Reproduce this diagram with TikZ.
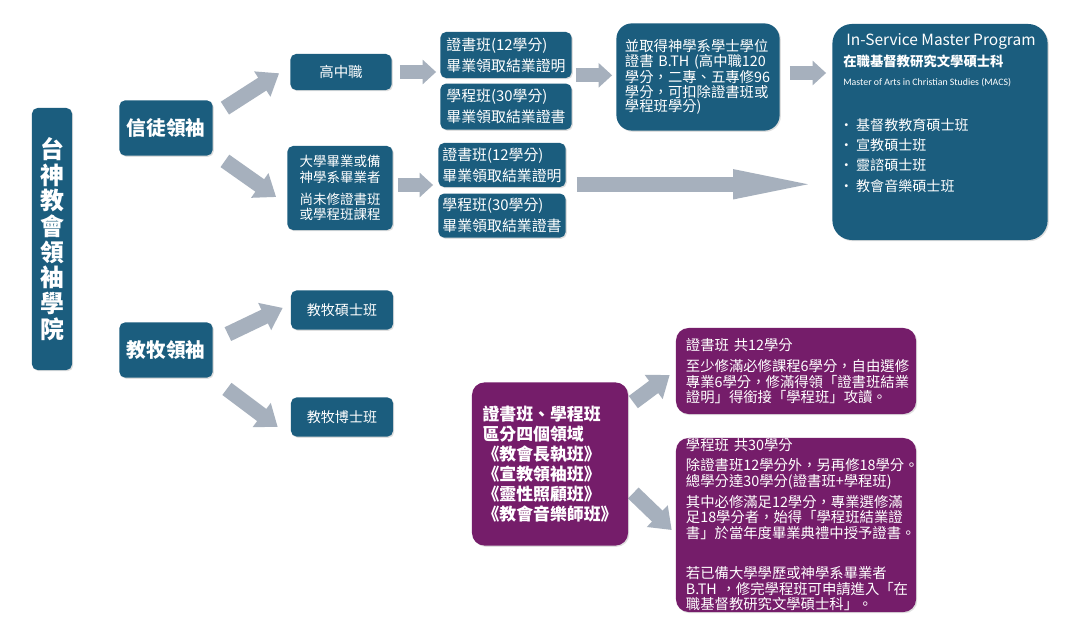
\documentclass[tikz,border=0pt]{standalone}
\usepackage{fontspec}
\setmainfont{Noto Sans CJK TC}
\newfontfamily\latinfont{Carlito}
\usepackage{tikz}
\usetikzlibrary{positioning,arrows.meta,calc,backgrounds,shadows}

\definecolor{leadblue}{RGB}{27,93,126}
\definecolor{leadpurple}{RGB}{117,29,106}
\definecolor{arrowgray}{RGB}{166,176,189}
\newcommand{\setfs}[2]{\fontsize{#1}{#2}\selectfont}

\begin{document}
\begin{tikzpicture}[
    x=0.025cm, y=-0.025cm,
    bbox/.style={fill=leadblue, text=white, rounded corners=4pt,
                 inner sep=0pt, align=left,
                 drop shadow={opacity=0.25, shadow xshift=0.03cm, shadow yshift=-0.03cm}},
    pbox/.style={bbox, fill=leadpurple, rounded corners=9pt},
    itext/.style={text=white, inner sep=0pt, anchor=west},
    garr/.style={draw=arrowgray, line width=0.35cm, -{Triangle[length=0.34cm,width=0.6cm]}},
    darr/.style={draw=arrowgray, line width=0.38cm, -{Triangle[length=0.5cm,width=0.72cm]}},
    larr/.style={draw=arrowgray, line width=0.38cm, -{Triangle[length=2.4cm,width=0.62cm]}}
  ]
    % left column
    \node[bbox, align=center, minimum width=1.0cm, minimum height=6.55cm,
          font=\setfs{17}{18.3}\bfseries] (T) at (52,239)
          {台\\神\\教\\會\\領\\袖\\學\\院};
    \node[bbox, minimum width=2.33cm, minimum height=1.38cm,
          font=\setfs{14}{16}\bfseries] (B1) at (166,128) {信徒領袖};
    \node[bbox, minimum width=2.33cm, minimum height=1.38cm,
          font=\setfs{14}{16}\bfseries] (B2) at (166,350) {教牧領袖};

    % lay leaders
    \node[bbox, minimum width=2.53cm, minimum height=0.9cm,
          font=\setfs{10.3}{12}] (H) at (341,72) {高中職};
    \node[bbox, minimum width=3.28cm, minimum height=1.15cm,
          font=\setfs{10.6}{12}] (C1) at (506,55)
          {證書班(12學分)\\[3pt]畢業領取結業證明};
    \node[bbox, minimum width=3.28cm, minimum height=1.15cm,
          font=\setfs{10.6}{12}, below=0.125cm of C1] (P1)
          {學程班(30學分)\\[3pt]畢業領取結業證書};
    \node[bbox, minimum width=2.63cm, minimum height=2.1cm,
          font=\setfs{9.6}{10.8}] (U) at (340,188)
          {大學畢業或備\\神學系畢業者\\[5pt]尚未修證書班\\或學程班課程};
    \node[bbox, minimum width=3.18cm, minimum height=1.1cm,
          font=\setfs{10.6}{12}] (C2) at (502,165)
          {證書班(12學分)\\[3pt]畢業領取結業證明};
    \node[bbox, minimum width=3.18cm, minimum height=1.1cm,
          font=\setfs{10.6}{12}, below=0.15cm of C2] (P2)
          {學程班(30學分)\\[3pt]畢業領取結業證書};
    \node[bbox, rounded corners=11pt, minimum width=4.08cm, minimum height=2.68cm,
          text width=3.65cm, font=\setfs{10.2}{10.4}] (D) at (698,77)
          {並取得神學系學士學位\\證書~B.TH~(高中職120\\學分，二專、五專修96\\學分，可扣除證書班或\\學程班學分)};

    % master program
    \node[bbox, rounded corners=14pt, minimum width=5.38cm, minimum height=5.4cm]
          (ISM) at (940,132) {};
    \node[itext, font=\setfs{11}{13}] (ismA) at (846,41) {In-Service Master Program};
    \node[itext, font=\setfs{9.5}{11}\bfseries] (ismB) at (843,61) {在職基督教研究文學碩士科};
    \node[itext, font=\latinfont\setfs{7}{8}] (ismC) at (843,83)
          {Master of Arts in Christian Studies (MACS)};
    \node[itext, anchor=north west, align=left, font=\setfs{10}{14.4}] (ismD) at (839,118)
          {•\hspace{2pt}基督教教育碩士班\\•\hspace{2pt}宣教碩士班\\%
           •\hspace{2pt}靈諮碩士班\\•\hspace{2pt}教會音樂碩士班};

    % pastoral leaders
    \node[bbox, minimum width=2.55cm, minimum height=0.98cm,
          font=\setfs{10}{12}] (M1) at (342,310) {教牧碩士班};
    \node[bbox, minimum width=2.55cm, minimum height=0.98cm,
          font=\setfs{10}{12}] (M2) at (342,417) {教牧博士班};

    % certificate tracks
    \node[pbox, minimum width=3.9cm, minimum height=4.08cm,
          font=\setfs{12}{14.3}\bfseries] (F) at (550,464)
          {證書班、學程班\\區分四個領域\\《教會長執班》\\《宣教領袖班》\\《靈性照顧班》\\《教會音樂師班》};
    \node[pbox, minimum width=6.0cm, minimum height=2.15cm, text width=5.5cm,
          font=\setfs{10.2}{11}] (R1) at (796,371)
          {證書班 共12學分\\[4.5pt]至少修滿必修課程6學分，自由選修\\專業6學分，修滿得領「證書班結業\\證明」得銜接「學程班」攻讀。};
    \node[pbox, minimum width=6.0cm, minimum height=4.35cm, text width=5.5cm,
          font=\setfs{10.2}{11}] (R2) at (796,525)
          {學程班 共30學分\\[3pt]除證書班12學分外，另再修18學分。\\總學分達30學分(證書班+學程班)\\[4pt]%
           其中必修滿足12學分，專業選修滿\\足18學分者，始得「學程班結業證\\書」於當年度畢業典禮中授予證書。\\[18pt]%
           若已備大學學歷或神學系畢業者\\B.TH~，修完學程班可申請進入「在\\職基督教研究文學碩士科」。};

    \begin{scope}[on background layer]
      \fill[white] (0,0) rectangle (1075,642);
      \draw[darr] ($(B1.north east)+(12,8)$) -- ($(H.south west)+(-11,-17)$);
      \draw[darr] ($(B1.south east)+(12,5)$) -- ($(U.west)+(-11,9)$);
      \draw[darr] ($(B2.north east)+(15,12)$) -- ($(M1.south west)+(-8,-22)$);
      \draw[darr] ($(B2.south east)+(14,11)$) -- ($(M2.west)+(-13,10)$);
      \draw[garr] ($(H.east)+(8,0)$) -- ($(H.east -| C1.west)+(-4,0)$);
      \draw[garr] ($(C1.south east)+(4,-3)$) -- ($(C1.south east -| D.west)+(-4,-3)$);
      \draw[garr] ($(D.east)+(10,-4)$) -- ($(D.east -| ISM.west)+(-6,-4)$);
      \draw[garr] ($(U.east)+(5,-3)$) -- ($(U.east -| C2.west)+(-5,-3)$);
      \draw[larr] ($(C2.south east)+(11,-3)$) -- ($(C2.south east -| ISM.west)+(-3,-3)$);
      \draw[darr] ($(F.north east)+(5,20)$) -- ($(R1.west)+(-6,4)$);
      \draw[darr] ($(F.east)+(5,29)$) -- ($(R2.west)+(-4,5)$);
    \end{scope}
    \useasboundingbox (0,0) rectangle (1075,642);
  \end{tikzpicture}
\end{document}
